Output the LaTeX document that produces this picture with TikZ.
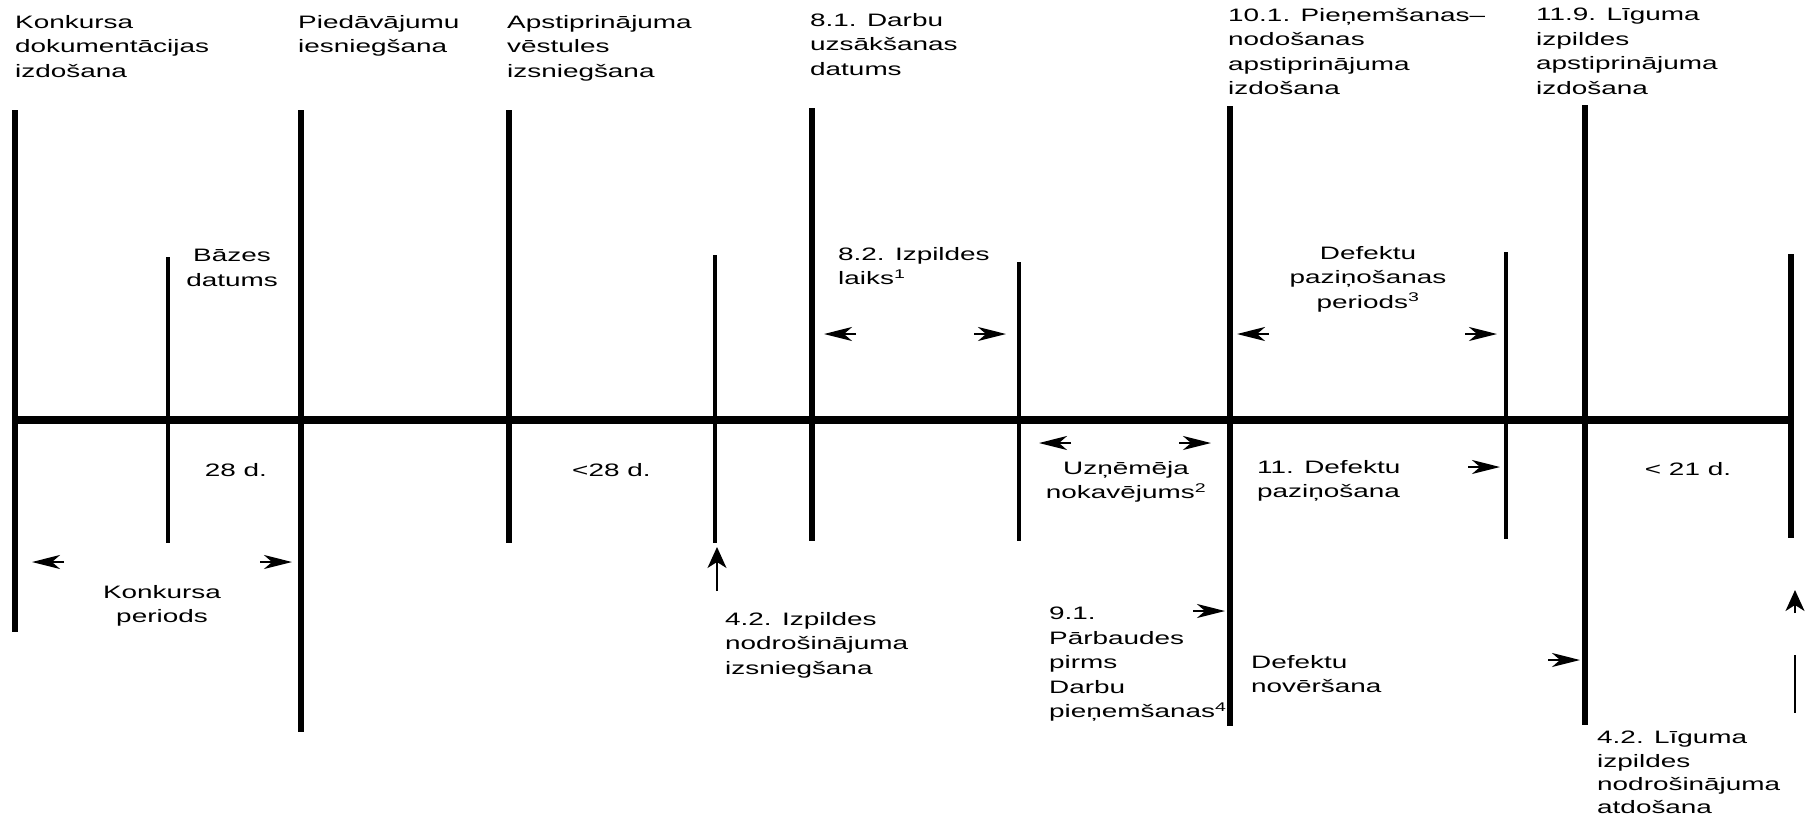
\documentclass[tikz,border=0pt]{standalone}
\usepackage{fontspec}
\setmainfont[FakeStretch=1.55]{Liberation Sans}
\usetikzlibrary{arrows.meta}
\begin{document}
\begin{tikzpicture}[x=1pt,y=-1pt,
  lbl/.style={inner sep=0pt, font=\fontsize{18}{24.5}\selectfont, align=left, anchor=north west},
  clbl/.style={lbl, align=center, anchor=north},
  bar/.style={line width=5.8pt},
  sbar/.style={line width=4.8pt},
  axisline/.style={line width=8pt},
  tipar/.style={line width=2.5pt, -{Stealth[length=28pt,width=14pt,inset=8pt]}},
  vtipar/.style={line width=2pt, -{Stealth[length=21pt,width=19pt,inset=6pt]}},
  thinar/.style={line width=1.5pt, -{Stealth[length=21pt,width=19pt,inset=6pt]}},
]
\useasboundingbox (0,0) rectangle (1806,820);
% axis
\coordinate (axL) at (15,420);
\coordinate (axR) at (1793,420);
\draw[axisline] (axL) -- (axR);
% vertical lines
\coordinate (v1t) at (15,110);   \coordinate (v1b) at (15,632);
\coordinate (v2t) at (168,257);  \coordinate (v2b) at (168,543);
\coordinate (v3t) at (301,110);  \coordinate (v3b) at (301,732);
\coordinate (v4t) at (509,110);  \coordinate (v4b) at (509,543);
\coordinate (v5t) at (715,255);  \coordinate (v5b) at (715,543);
\coordinate (v6t) at (812,108);  \coordinate (v6b) at (812,541);
\coordinate (v7t) at (1019,262); \coordinate (v7b) at (1019,541);
\coordinate (v8t) at (1230,106); \coordinate (v8b) at (1230,726);
\coordinate (v9t) at (1506,252); \coordinate (v9b) at (1506,539);
\coordinate (v10t) at (1585,105); \coordinate (v10b) at (1585,725);
\coordinate (v11t) at (1791,254); \coordinate (v11b) at (1791,538);
\draw[bar] (v1t) -- (v1b);
\draw[sbar] (v2t) -- (v2b);
\draw[bar] (v3t) -- (v3b);
\draw[bar] (v4t) -- (v4b);
\draw[sbar] (v5t) -- (v5b);
\draw[bar] (v6t) -- (v6b);
\draw[sbar] (v7t) -- (v7b);
\draw[bar] (v8t) -- (v8b);
\draw[sbar] (v9t) -- (v9b);
\draw[bar] (v10t) -- (v10b);
\draw[bar] (v11t) -- (v11b);
% top labels
\node[lbl] (t1) at (15,15) {Konkursa\\dokumentācijas\\izdošana};
\node[lbl] (t2) at (298,15) {Piedāvājumu\\iesniegšana};
\node[lbl] (t3) at (507,15) {Apstiprinājuma\\vēstules\\izsniegšana};
\node[lbl] (t4) at (810,13) {8.1. Darbu\\uzsākšanas\\datums};
\node[lbl] (t5) at (1228,8) {10.1. Pieņemšanas–\\nodošanas\\apstiprinājuma\\izdošana};
\node[lbl] (t6) at (1536,8) {11.9. Līguma\\izpildes\\apstiprinājuma\\izdošana};
% middle upper labels
\node[clbl] (bd) at (232,249) {Bāzes\\datums};
\node[lbl] (il) at (838,247) {8.2. Izpildes\\laiks\textsuperscript{1}};
\node[clbl] (dpp) at (1368,246) {Defektu\\paziņošanas\\periods\textsuperscript{3}};
% below axis labels
\node[clbl] (d28) at (236,463) {28 d.};
\node[lbl] (lt28) at (572,463) {<28 d.};
\node[clbl] (un) at (1126,461) {Uzņēmēja\\nokavējums\textsuperscript{2}};
\node[lbl] (dp) at (1257,460) {11. Defektu\\paziņošana};
\node[clbl] (lt21) at (1688,462) {< 21 d.};
\node[clbl] (kp) at (162,585) {Konkursa\\periods};
\node[lbl] (izn) at (725,612) {4.2. Izpildes\\nodrošinājuma\\izsniegšana};
\node[lbl] (pb) at (1049,607) {9.1.\\Pārbaudes\\pirms\\Darbu\\pieņemšanas\textsuperscript{4}};
\node[lbl] (dn) at (1251,655) {Defektu\\novēršana};
\node[lbl, font=\fontsize{18}{23.4}\selectfont] (lna) at (1597,731) {4.2. Līguma\\izpildes\\nodrošinājuma\\atdošana};
% arrow heads
\coordinate (a1s) at (856,334);  \coordinate (a1e) at (824,334);
\coordinate (a2s) at (974,334);  \coordinate (a2e) at (1006,334);
\coordinate (a3s) at (1269,334); \coordinate (a3e) at (1237,334);
\coordinate (a4s) at (1465,334); \coordinate (a4e) at (1497,334);
\coordinate (a5s) at (1071,443); \coordinate (a5e) at (1039,443);
\coordinate (a6s) at (1179,443); \coordinate (a6e) at (1211,443);
\coordinate (a7s) at (1468,467); \coordinate (a7e) at (1500,467);
\coordinate (a8s) at (64,562);   \coordinate (a8e) at (32,562);
\coordinate (a9s) at (260,562);  \coordinate (a9e) at (292,562);
\coordinate (a11s) at (1193,611); \coordinate (a11e) at (1225,611);
\coordinate (a12s) at (1548,660); \coordinate (a12e) at (1580,660);
\coordinate (a13s) at (1795,613); \coordinate (a13e) at (1795,590);
\draw[tipar] (a1s) -- (a1e);
\draw[tipar] (a2s) -- (a2e);
\draw[tipar] (a3s) -- (a3e);
\draw[tipar] (a4s) -- (a4e);
\draw[tipar] (a5s) -- (a5e);
\draw[tipar] (a6s) -- (a6e);
\draw[tipar] (a7s) -- (a7e);
\draw[tipar] (a8s) -- (a8e);
\draw[tipar] (a9s) -- (a9e);
\draw[tipar] (a11s) -- (a11e);
\draw[tipar] (a12s) -- (a12e);
\draw[vtipar] (a13s) -- (a13e);
% thin arrow to 4.2 line
\coordinate (a10s) at (717,591); \coordinate (a10e) at (717,547);
\draw[thinar] (a10s) -- (a10e);
% thin line at right
\coordinate (r1) at (1795,655); \coordinate (r2) at (1795,713);
\draw[line width=1.4pt] (r1) -- (r2);
\end{tikzpicture}
\end{document}
